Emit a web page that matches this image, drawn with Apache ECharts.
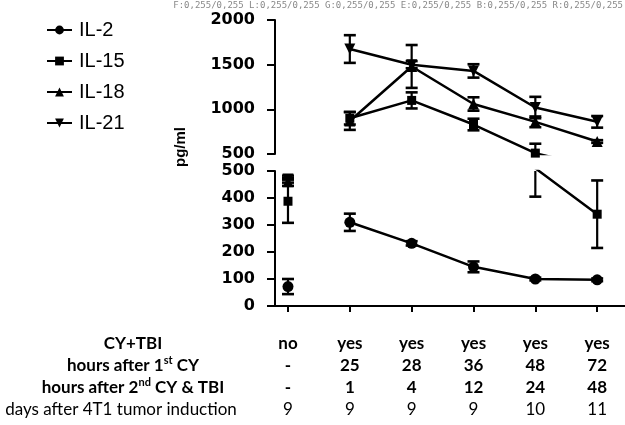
<!DOCTYPE html>
<html><head><meta charset="utf-8">
<script src="https://cdn.jsdelivr.net/npm/echarts@6/dist/echarts.min.js"></script>
<style>html,body{margin:0;padding:0;background:#fff}#c{width:625px;height:425px}.off{position:absolute;left:-3000px;top:0;width:625px;height:425px}#d{position:absolute;right:2px;top:0;font:9px monospace;color:#888}</style>
</head><body><div id="c"></div><div id="d"></div>
<script>
// ---- data ----
const seriesNames = ['IL-2', 'IL-15', 'IL-18', 'IL-21'];
const il2     = [72, 310, 232, 145, 100, 97];
const il2Err  = [28, 32, 8, 20, 5, 5];
const il15    = [388, 900, 1100, 830, 510, 340];
const il15Err = [80, 70, 90, 65, 105, 125];
const il18    = [460, 870, 1480, 1060, 860, 640];
const il18Err = [15, 100, 240, 75, 60, 15];
const il21    = [470, 1675, 1500, 1430, 1020, 860];
const il21Err = [13, 155, 40, 75, 120, 65];
const cyTbi  = ['no', 'yes', 'yes', 'yes', 'yes', 'yes'];
const hours1 = ['-', '25', '28', '36', '48', '72'];
const hours2 = ['-', '1', '4', '12', '24', '48'];
const days   = ['9', '9', '9', '9', '10', '11'];
const upperTicks = { min: 500, max: 2000, interval: 500 };
const lowerTicks = { min: 0, max: 500, interval: 100 };
const yTitle = 'pg/ml';

const values = [il2, il15, il18, il21];
const errs = [il2Err, il15Err, il18Err, il21Err];
const symbols = ['circle', 'rect', 'triangle', 'triangle'];
const rotates = [0, 0, 0, 180];
const catIdx = cyTbi.map((_, i) => i);
const xMin = -0.21, xMax = 5.45;
const ranges = [upperTicks, lowerTicks];

function renderErr(params, api) {
  const x = api.value(0), lo = api.value(1), hi = api.value(2);
  const p1 = api.coord([x, lo]), p2 = api.coord([x, hi]);
  const w = 6;
  return { type: 'group', children: [
    { type: 'line', shape: { x1: p1[0], y1: p1[1], x2: p2[0], y2: p2[1] }, style: { stroke: '#000', lineWidth: 2.2 } },
    { type: 'line', shape: { x1: p1[0] - w, y1: p1[1], x2: p1[0] + w, y2: p1[1] }, style: { stroke: '#000', lineWidth: 2.6 } },
    { type: 'line', shape: { x1: p2[0] - w, y1: p2[1], x2: p2[0] + w, y2: p2[1] }, style: { stroke: '#000', lineWidth: 2.6 } }
  ]};
}

const axisFont = { fontFamily: 'DejaVu Sans', fontWeight: 'bold', fontSize: 16, color: '#000' };
const cellB = { fontFamily: 'Lato', fontWeight: 'bold', fontSize: 17, lineHeight: 22, color: '#000' };
const cellR = { fontFamily: 'Lato', fontWeight: 'normal', fontSize: 17, lineHeight: 22, color: '#000' };
const supS = { fontFamily: 'Lato', fontWeight: 'bold', fontSize: 11, lineHeight: 22, color: '#000', verticalAlign: 'top', padding: [0, 0, 8, 0] };
const rowTexts = [
  '{b|CY+TBI}',
  '{b|hours after 1}{s|st}{b| CY}',
  '{b|hours after 2}{s|nd}{b| CY & TBI}',
  '{r|days after 4T1 tumor induction}'
];
const rowX = [133, 133, 133, 121];
const rowY = [344, 366, 388, 410];
function plain(v) { return String(v); }

function makeOption(f) {
  const series = [];
  [0, 1].forEach(g => {
    seriesNames.forEach((name, s) => {
      const v = values[s];
      const sym = { symbol: symbols[s], symbolRotate: rotates[s], symbolSize: s === 1 ? 9 : 11 };
      series.push(Object.assign({
        type: 'line', name: name, xAxisIndex: g, yAxisIndex: g,
        data: v.slice(1).map((y, i) => [i + 1, y]),
        lineStyle: { color: '#000', width: 2.5 }, itemStyle: { color: '#000' },
        clip: true, z: 3, animation: false
      }, sym));
      if (f.base) series.push(Object.assign({
        type: 'line', name: name, xAxisIndex: g, yAxisIndex: g,
        data: [[0, v[0]]],
        lineStyle: { color: '#000', width: 2.5 }, itemStyle: { color: '#000' },
        clip: true, z: 3, animation: false
      }, sym));
      if (f.err) series.push({
        type: 'custom', name: name + ' err', xAxisIndex: g, yAxisIndex: g,
        data: v.map((y, i) => [i, y - errs[s][i], y + errs[s][i]]),
        encode: { x: 0, y: [1, 2] }, renderItem: renderErr, clip: true, z: 2, animation: false
      });
    });
  });
  const opt = {
    animation: false,
    grid: [
      { left: 275, width: 350, top: 20, height: 134 },
      { left: 275, width: 350, top: 171, height: 135 }
    ],
    xAxis: [
      { type: 'value', gridIndex: 0, min: xMin, max: xMax, show: false },
      { type: 'value', gridIndex: 1, min: xMin, max: xMax,
        axisLine: { show: true, onZero: false, lineStyle: { color: '#000', width: 2 } },
        axisTick: { show: true, customValues: catIdx, length: 6, lineStyle: { color: '#000', width: 2 } },
        splitLine: { show: false },
        axisLabel: f.rich ? { customValues: catIdx, margin: 27,
          formatter: function (val) {
            const i = Math.round(val);
            return '{b|' + cyTbi[i] + '}\n{b|' + hours1[i] + '}\n{b|' + hours2[i] + '}\n{r|' + days[i] + '}';
          },
          rich: { b: cellB, r: cellR } } : { customValues: catIdx }
      }
    ],
    yAxis: [0, 1].map(g => ({
      type: 'value', gridIndex: g, min: ranges[g].min, max: ranges[g].max, interval: ranges[g].interval,
      axisLine: { show: true, onZero: false, lineStyle: { color: '#000', width: 2 } },
      axisTick: { show: true, length: 8, lineStyle: { color: '#000', width: 2 } },
      splitLine: { show: false }, axisLabel: Object.assign({ margin: 20, formatter: plain }, axisFont)
    })),
    series: series
  };
  if (f.legend) opt.legend = {
    orient: 'vertical', left: 41, top: 15, itemWidth: 25, itemHeight: 11, itemGap: 11,
    data: seriesNames,
    textStyle: { fontFamily: 'Liberation Sans', fontSize: 20, color: '#000', padding: [0, 0, 0, 2] }
  };
  if (f.graphic) opt.graphic = [
    { type: 'text', x: 181, y: 147, rotation: Math.PI / 2,
      style: { text: yTitle, fill: '#000', font: 'bold 15px "Liberation Sans"', align: 'center', verticalAlign: 'middle' } }
  ].concat(rowTexts.map((t, i) => ({
    type: 'text', x: rowX[i], y: rowY[i],
    style: { text: t, align: 'center', verticalAlign: 'middle', rich: { b: cellB, r: cellR, s: supS } }
  })));
  return opt;
}

const full = { legend: true, graphic: true, err: true, base: true, rich: true };
const chart = echarts.init(document.getElementById('c'));
chart.setOption(makeOption(full));

// diagnostics: which part hides the y-axis line
function probe(ch) {
  try {
    const cv = ch.renderToCanvas ? ch.renderToCanvas() : null;
    if (!cv) return '?';
    const k = cv.width / 625, ctx = cv.getContext('2d');
    const a = ctx.getImageData(Math.round(275 * k), Math.round(90 * k), 1, 1).data;
    const b = ctx.getImageData(Math.round(275 * k), Math.round(240 * k), 1, 1).data;
    return a[0] + ',' + a[3] + '/' + b[0] + ',' + b[3];
  } catch (e) { return 'E' + String(e).slice(0, 20); }
}
const res = ['F:' + probe(chart)];
const variants = { L: 'legend', G: 'graphic', E: 'err', B: 'base', R: 'rich' };
Object.keys(variants).forEach(k => {
  const f = Object.assign({}, full); f[variants[k]] = false;
  const div = document.createElement('div'); div.className = 'off'; document.body.appendChild(div);
  const ch = echarts.init(div); ch.setOption(makeOption(f));
  res.push(k + ':' + probe(ch));
});
document.getElementById('d').textContent = res.join(' ');
</script>
</body></html>
